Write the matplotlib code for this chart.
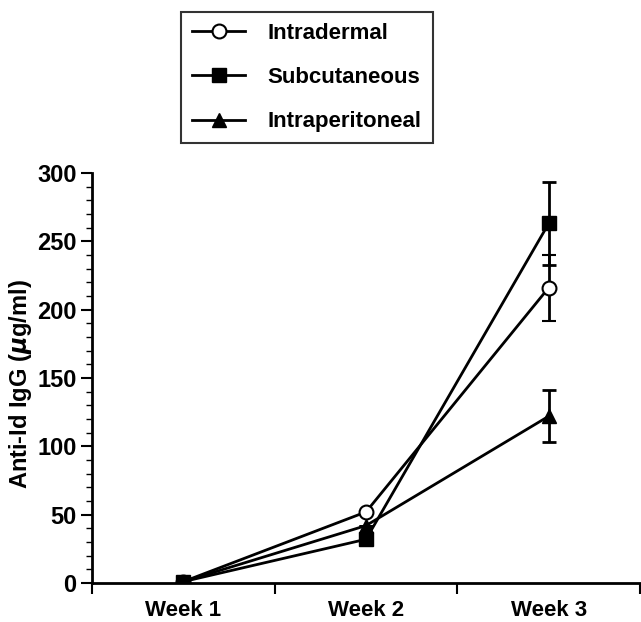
import numpy as np
import matplotlib
matplotlib.use("Agg")
import matplotlib.pyplot as plt
from matplotlib.lines import Line2D
from matplotlib.ticker import MultipleLocator, FixedLocator

plt.rcParams['font.family'] = ['Liberation Sans', 'DejaVu Sans']
plt.rcParams['font.weight'] = 'bold'

weeks = ["Week 1", "Week 2", "Week 3"]
intradermal = [1, 52, 216]
intradermal_err = [0, 0, 24]
subcutaneous = [1, 32, 263]
subcutaneous_err = [0, 0, 30]
intraperitoneal = [1, 42, 122]
intraperitoneal_err = [0, 0, 19]

fig = plt.figure(figsize=(6.41, 6.22), dpi=100)
ax = fig.add_axes([0.1435, 0.0627, 0.855, 0.6593])

x = np.arange(1, len(weeks) + 1)
common = dict(color='black', lw=2, capsize=5, elinewidth=2, capthick=2)
ax.errorbar(x, intradermal, yerr=intradermal_err, marker='o', ms=10,
            mfc='white', mec='black', mew=1.5, **common)
ax.errorbar(x, subcutaneous, yerr=subcutaneous_err, marker='s', ms=10,
            mfc='black', mec='black', **common)
ax.errorbar(x, intraperitoneal, yerr=intraperitoneal_err, marker='^', ms=10,
            mfc='black', mec='black', **common)

ax.set_xlim(0.5, 3.5)
ax.set_ylim(0, 300)
ax.set_xticks(x)
ax.set_xticklabels(weeks, fontsize=16, fontweight='bold')
ax.xaxis.set_minor_locator(FixedLocator([0.5, 1.5, 2.5, 3.5]))
ax.tick_params(axis='x', which='major', length=0, pad=12)
ax.tick_params(axis='x', which='minor', length=8, width=1.5, direction='out')

ax.yaxis.set_major_locator(MultipleLocator(50))
ax.yaxis.set_minor_locator(MultipleLocator(10))
ax.tick_params(axis='y', which='major', length=8, width=1.5, labelsize=17, pad=3)
ax.tick_params(axis='y', which='minor', length=4, width=1)
for lab in ax.get_yticklabels():
    lab.set_fontweight('bold')

ax.set_ylabel(r'Anti-Id IgG ($\mu$g/ml)', fontsize=17, fontweight='bold')
ax.yaxis.set_label_coords(-0.106, 0.485)

ax.spines['top'].set_visible(False)
ax.spines['right'].set_visible(False)
ax.spines['left'].set_linewidth(2)
ax.spines['bottom'].set_linewidth(2)

handles = [
    Line2D([], [], color='black', lw=2, marker='o', ms=10, mfc='white', mec='black', mew=1.5),
    Line2D([], [], color='black', lw=2, marker='s', ms=10, mfc='black', mec='black'),
    Line2D([], [], color='black', lw=2, marker='^', ms=10, mfc='black', mec='black'),
]
leg = fig.legend(handles, ["Intradermal", "Subcutaneous", "Intraperitoneal"],
                 loc='upper left', bbox_to_anchor=(0.2824, 0.9807),
                 fontsize=16, frameon=True, fancybox=False, edgecolor='black',
                 handlelength=2.4, labelspacing=1.04, borderpad=0.5, handletextpad=1.0,
                 borderaxespad=0)
leg.get_frame().set_linewidth(1.5)
for t in leg.get_texts():
    t.set_fontweight('bold')

fig.savefig("out.png", dpi=100)
